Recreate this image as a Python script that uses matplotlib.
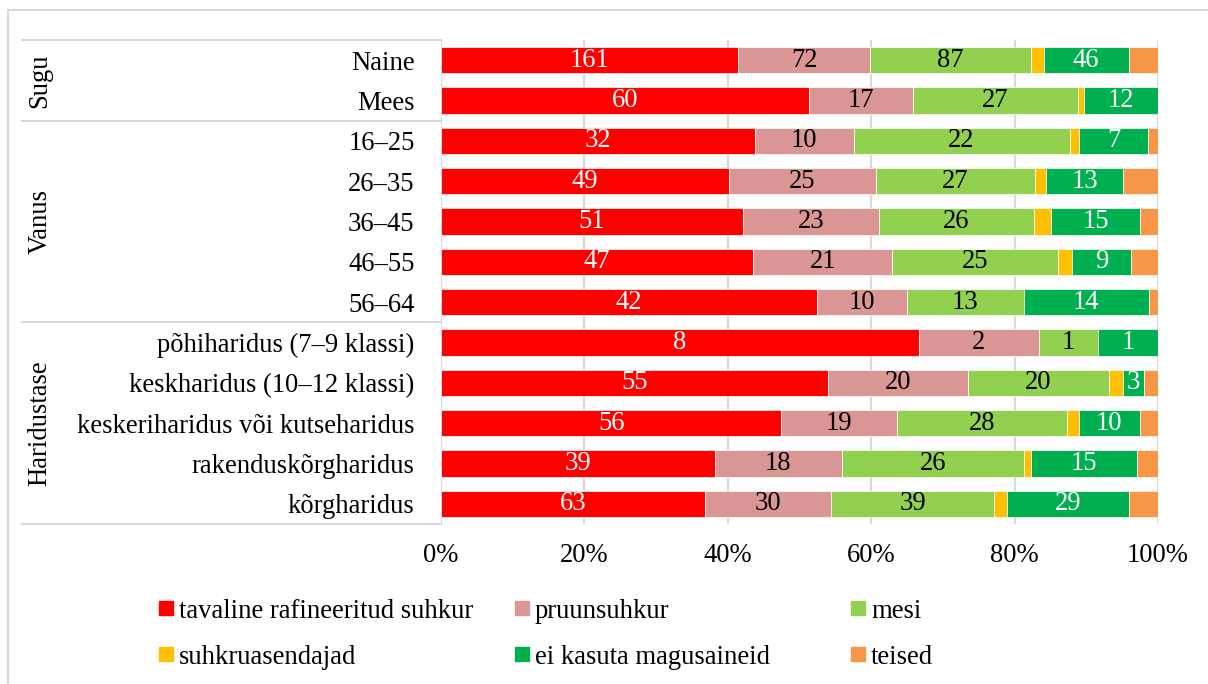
import numpy as np
import matplotlib
matplotlib.use('Agg')
import matplotlib.pyplot as plt
import matplotlib.transforms as mtransforms
from matplotlib.lines import Line2D
from matplotlib.patches import Rectangle

plt.rcParams['font.family'] = ['Liberation Serif', 'DejaVu Serif']

categories = ['Naine', 'Mees', '16–25', '26–35', '36–45', '46–55', '56–64',
              'põhiharidus (7–9 klassi)', 'keskharidus (10–12 klassi)',
              'keskeriharidus või kutseharidus', 'rakenduskõrgharidus', 'kõrgharidus']
groups = ['Sugu', 'Vanus', 'Haridustase']
group_sizes = [2, 5, 5]

series_names = ['tavaline rafineeritud suhkur', 'pruunsuhkur', 'mesi',
                'suhkruasendajad', 'ei kasuta magusaineid', 'teised']
rafineeritud = [161, 60, 32, 49, 51, 47, 42, 8, 55, 56, 39, 63]
pruunsuhkur = [72, 17, 10, 25, 23, 21, 10, 2, 20, 19, 18, 30]
mesi = [87, 27, 22, 27, 26, 25, 13, 1, 20, 28, 26, 39]
asendajad = [7, 1, 1, 2, 3, 2, 0, 0, 2, 2, 1, 3]
ei_kasuta = [46, 12, 7, 13, 15, 9, 14, 1, 3, 10, 15, 29]
teised = [16, 0, 1, 6, 3, 4, 1, 0, 2, 3, 3, 7]

colors = ['#FF0000', '#DA9694', '#92D050', '#FFC000', '#00B050', '#F79646']
label_colors = ['white', 'black', 'black', None, 'white', None]

W, H = 1208, 684
fs = 19.2
grid_c = '#d9d9d9'

data = np.array([rafineeritud, pruunsuhkur, mesi, asendajad, ei_kasuta, teised], dtype=float)
pct = data / data.sum(axis=0) * 100

fig = plt.figure(figsize=(W / 100, H / 100), dpi=100)
ax = fig.add_axes([441 / W, 160 / H, 717 / W, 484 / H])

y = np.arange(len(categories))
left = np.zeros(len(categories))
for i in range(len(series_names)):
    bars = ax.barh(y, pct[i], left=left, height=0.65, color=colors[i],
                   edgecolor='white', linewidth=0.5, zorder=3)
    if label_colors[i]:
        labels = [f'{int(v)}' if v > 0 else '' for v in data[i]]
        ax.bar_label(bars, labels=labels, label_type='center',
                     color=label_colors[i], fontsize=fs)
    left += pct[i]

ax.set_xlim(0, 100)
ax.set_ylim(len(categories) - 0.5, -0.5)
ax.set_xticks(range(0, 101, 20))
ax.set_xticklabels([f'{v}%' for v in range(0, 101, 20)], fontsize=fs)
ax.set_yticks(y)
ax.set_yticklabels(categories, fontsize=fs)
ax.tick_params(axis='both', length=0)
ax.tick_params(axis='x', pad=14)
ax.tick_params(axis='y', pad=19)
ax.grid(axis='x', color=grid_c, lw=1.5, zorder=0)
for s in ax.spines.values():
    s.set_visible(False)

# table lines and group labels on the left
trans = mtransforms.blended_transform_factory(fig.transFigure, ax.transData)
bounds = np.concatenate([[0], np.cumsum(group_sizes)]) - 0.5
for b in bounds:
    fig.add_artist(Line2D([22 / W, 441 / W], [b, b], transform=trans,
                          color=grid_c, lw=1.5))
for g, a, b in zip(groups, bounds[:-1], bounds[1:]):
    ax.text(40 / W, (a + b) / 2, g, transform=trans, rotation=90,
            ha='center', va='center', fontsize=fs)

# outer frame
top = (H - 10) / H
fig.add_artist(Rectangle((8 / W, -0.1), 1.1, top + 0.1,
                         transform=fig.transFigure, fill=False, ec=grid_c, lw=1.5))

# legend
leg_x = [159, 515, 851]
leg_y = [608, 654]
for i, name in enumerate(series_names):
    cx = leg_x[i % 3]
    cy = leg_y[i // 3]
    fig.add_artist(Rectangle((cx / W, (H - cy - 7) / H), 14 / W, 14 / H,
                             transform=fig.transFigure, color=colors[i]))
    fig.text((cx + 20) / W, (H - cy) / H, name, ha='left', va='center_baseline',
             fontsize=fs)

fig.savefig('out.png', dpi=100)
